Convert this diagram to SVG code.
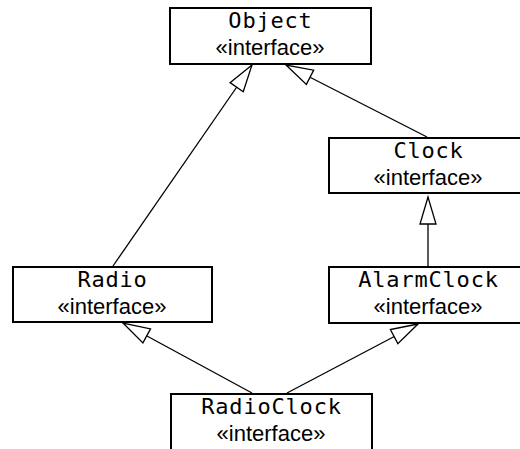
<svg xmlns="http://www.w3.org/2000/svg" width="520" height="449" viewBox="0 0 520 449">
<style>
.box{fill:#fff;stroke:#000;stroke-width:2}
.t{font-family:"DejaVu Sans Mono",monospace;font-size:22px;letter-spacing:0.8px;text-anchor:middle;fill:#000}
.s{font-family:"Liberation Sans",Arial,sans-serif;font-size:22px;text-anchor:middle;fill:#000}
.c{stroke:#000;stroke-width:1.3;fill:none}
</style>
<defs>
<marker id="tri" markerUnits="userSpaceOnUse" markerWidth="30" markerHeight="20" viewBox="-28 -10 30 20" refX="0" refY="0" orient="auto" overflow="visible">
<path d="M0,0 L-27,-8 L-27,8 Z" fill="#fff" stroke="#000" stroke-width="1.3"/>
</marker>
</defs>
<g id="connectors">
<line class="c" x1="113" y1="266" x2="252" y2="65" marker-end="url(#tri)"/>
<line class="c" x1="427" y1="137" x2="286" y2="65" marker-end="url(#tri)"/>
<line class="c" x1="428" y1="266" x2="428" y2="197" stroke-width="2" marker-end="url(#tri)"/>
<line class="c" x1="252" y1="393" x2="123" y2="323" marker-end="url(#tri)"/>
<line class="c" x1="287" y1="393" x2="418" y2="324" marker-end="url(#tri)"/>
</g>
<g id="Object">
<rect class="box" x="170" y="8" width="201" height="56"/>
<text class="t" x="270.5" y="28">Object</text>
<text class="s" x="270" y="55">«interface»</text>
</g>
<g id="Clock">
<rect class="box" x="329" y="138" width="200" height="55"/>
<text class="t" x="428.5" y="158">Clock</text>
<text class="s" x="428" y="185">«interface»</text>
</g>
<g id="Radio">
<rect class="box" x="13" y="267" width="199" height="55"/>
<text class="t" x="112.5" y="287">Radio</text>
<text class="s" x="112" y="314">«interface»</text>
</g>
<g id="AlarmClock">
<rect class="box" x="329" y="267" width="200" height="56"/>
<text class="t" x="428.5" y="287">AlarmClock</text>
<text class="s" x="428" y="314">«interface»</text>
</g>
<g id="RadioClock">
<rect class="box" x="171" y="394" width="201" height="70"/>
<text class="t" x="271.5" y="414">RadioClock</text>
<text class="s" x="271" y="441">«interface»</text>
</g>
</svg>
